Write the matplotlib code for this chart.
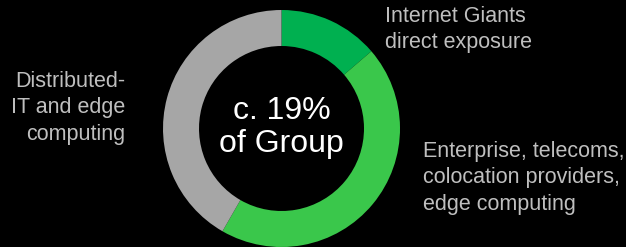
import matplotlib.pyplot as plt

# segment shares
segments = ['Internet Giants direct exposure',
            'Enterprise, telecoms, colocation providers, edge computing',
            'Distributed-IT and edge computing']
shares = [13.7, 44.6, 41.7]
colors = ['#00B050', '#3AC74B', '#A6A6A6']
center_label = 'c. 19%\nof Group'

W, H = 626, 247
fig = plt.figure(figsize=(W / 100, H / 100), dpi=100, facecolor='black')
ax = fig.add_axes([0, 0, 1, 1])
ax.set_facecolor('black')

cx, cy, r = 281.5, H - 128.5, 118.5
ax.pie(shares, colors=colors, startangle=90, counterclock=False,
       center=(cx, cy), radius=r,
       wedgeprops=dict(width=36, edgecolor='none'))
ax.set_xlim(0, W)
ax.set_ylim(0, H)
ax.set_aspect('equal')
ax.axis('off')

plt.rcParams['font.family'] = ['Liberation Sans', 'DejaVu Sans']
lab = dict(color='#BFBFBF', fontsize=15.5)

ax.text(cx, cy + 1, center_label, ha='center', va='center', color='white',
        fontsize=23, linespacing=1.15)
ax.text(385, H - 6, 'Internet Giants\ndirect exposure', ha='left', va='top',
        linespacing=1.3, **lab)
ax.text(423, H - 141, 'Enterprise, telecoms,\ncolocation providers,\nedge computing',
        ha='left', va='top', linespacing=1.34, **lab)
ax.text(125, H - 71, 'Distributed-\nIT and edge\ncomputing', ha='right', va='top',
        linespacing=1.34, **lab)

fig.savefig('out.png', dpi=100, facecolor='black')
